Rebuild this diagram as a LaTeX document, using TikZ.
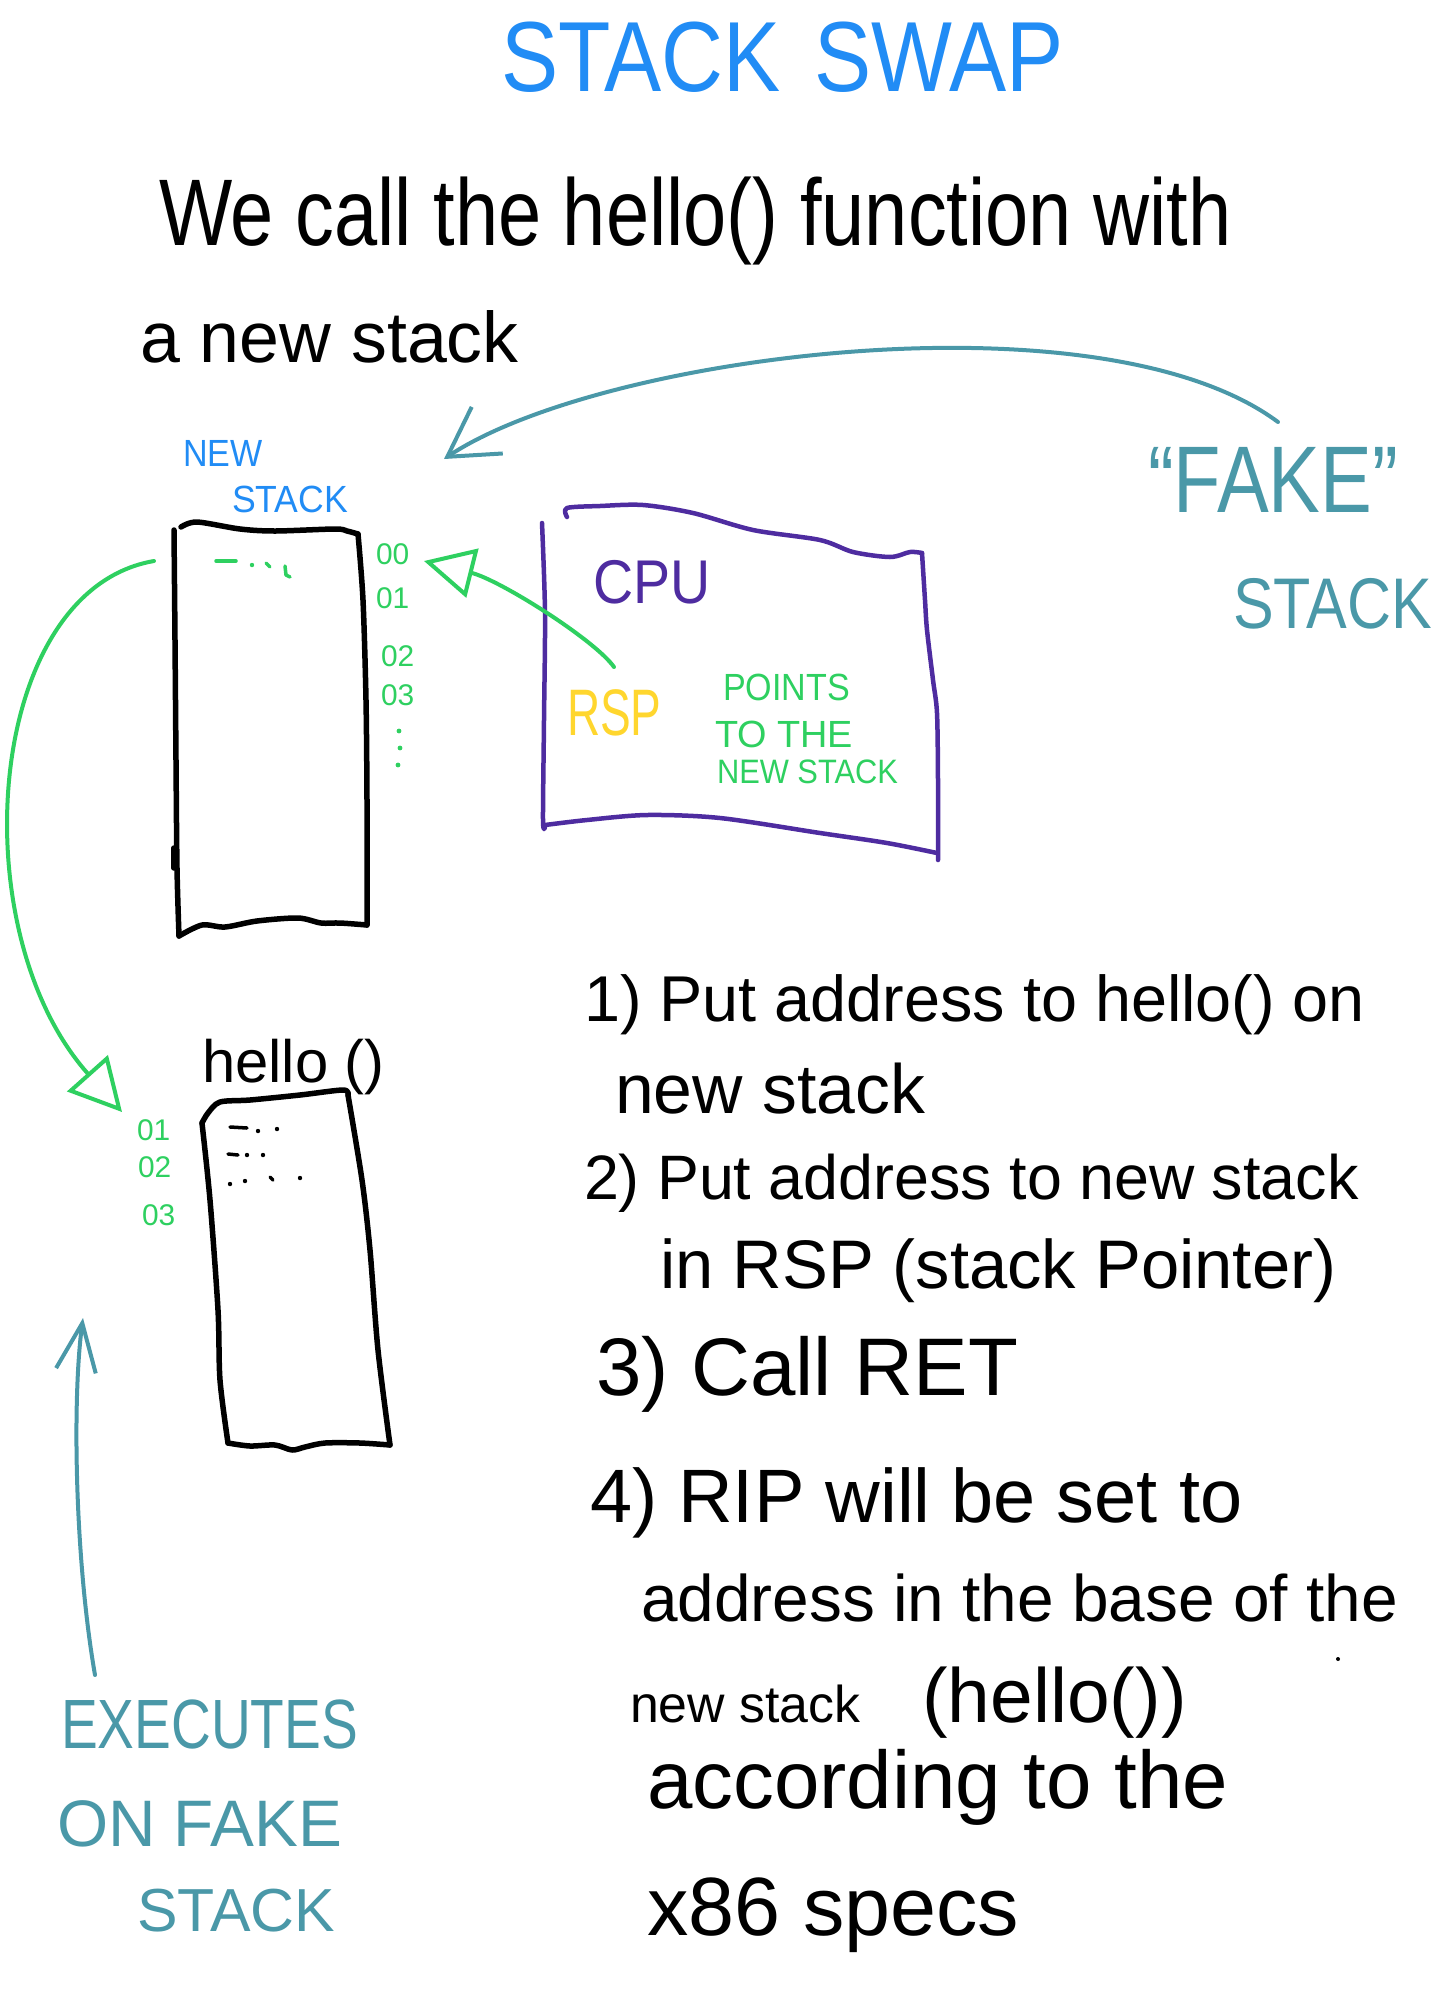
\documentclass[tikz,border=0pt]{standalone}
\usepackage{graphicx}
\usepackage{fontspec}
\setmainfont{Liberation Sans}
\usetikzlibrary{arrows.meta}
\definecolor{ttlblue}{RGB}{33,140,245}
\definecolor{tealc}{RGB}{74,152,168}
\definecolor{grn}{RGB}{46,208,96}
\definecolor{purp}{RGB}{78,44,160}
\definecolor{yel}{RGB}{255,214,46}
\newcommand{\fsz}[1]{\fontsize{#1}{#1}\selectfont}
\begin{document}
\begin{tikzpicture}[x=1bp,y=-1bp,
  t/.style={anchor=base west, inner sep=0pt, outer sep=0pt},
  stk/.style={draw=black, line width=5.5bp, line cap=round, line join=round},
  cpubox/.style={draw=purp, line width=4.5bp, line cap=round, line join=round},
  gline/.style={draw=grn, line width=4bp, line cap=round, line join=round},
  tline/.style={draw=tealc, line width=4bp, line cap=round, line join=round},
  tri/.style={-{Triangle[open, length=50bp, width=50bp, line width=4bp]}},
]
\useasboundingbox[fill=white] (0,0) rectangle (1450,1990);

% ---------- title and intro text ----------
\node[t, text=ttlblue] (title) at (501,91) {\scalebox{0.86}[1]{\fsz{100}STACK\hspace{40bp}SWAP}};
\node[t] (intro1) at (159,245) {\scalebox{0.82}[1]{\fsz{95}We call the hello() function with}};
\node[t] (intro2) at (140,362) {\fsz{72}a new stack};

% ---------- new stack ----------
\node[t, text=ttlblue] (nslab1) at (183,466) {\scalebox{0.9}[1]{\fsz{38}NEW}};
\node[t, text=ttlblue] (nslab2) at (232,512) {\scalebox{0.94}[1]{\fsz{38}STACK}};
\draw[stk] plot[smooth] coordinates {(181,527) (197,522) (240,529) (275,531) (335,529) (347,531) (358,534)};
\draw[stk] plot[smooth] coordinates {(358,534) (363,600) (366,700) (367,800) (367,886) (367,925)};
\draw[stk] plot[smooth] coordinates {(367,925) (340,923) (321,923) (298,918) (257,921) (225,927) (202,925) (179,936)};
\draw[stk] plot[smooth] coordinates {(179,936) (177,868) (176,760) (175,640) (174,530)};
\draw[stk] (174,848) -- (174,868);

\node[t, text=grn] (a00) at (376,564) {\fsz{30}00};
\node[t, text=grn] (a01) at (376,608) {\fsz{30}01};
\node[t, text=grn] (a02) at (381,666) {\fsz{30}02};
\node[t, text=grn] (a03) at (381,705) {\fsz{30}03};
\fill[grn] (399,731) circle (2.4bp) (400,748) circle (2.4bp) (398,765) circle (2.4bp);
% marks inside new stack
\draw[gline, line width=3.5bp] (216,561) -- (236,561);
\fill[grn] (252,565) circle (2.2bp);
\draw[gline, line width=3.5bp] (266,563) -- (270,567);
\draw[gline, line width=3.5bp] (285,566) -- (286,575) -- (290,577);

% ---------- CPU ----------
\draw[cpubox] plot[smooth] coordinates {(567,517) (567,508) (600,506) (643,505) (693,513) (753,530) (820,540) (853,552) (890,557) (910,552) (922,553)};
\draw[cpubox] plot[smooth] coordinates {(922,553) (925,600) (927,630) (933,680) (937,713) (938,780) (938,860)};
\draw[cpubox] plot[smooth] coordinates {(545,825) (587,820) (647,815) (720,818) (820,833) (887,843) (937,853)};
\draw[cpubox] plot[smooth] coordinates {(542,523) (545,613) (544,720) (543,820) (545,827)};
\node[t, text=purp] (cpu) at (593,603) {\scalebox{0.9}[1]{\fsz{62}CPU}};
\node[t, text=yel] (rsp) at (567,735) {\scalebox{0.7}[1]{\fsz{66}RSP}};
\node[t, text=grn] (pt1) at (723,700) {\scalebox{0.9}[1]{\fsz{38}POINTS}};
\node[t, text=grn] (pt2) at (715,747) {\fsz{38}TO THE};
\node[t, text=grn] (pt3) at (717,783) {\scalebox{0.91}[1]{\fsz{34}NEW STACK}};

% ---------- fake stack label ----------
\node[t, text=tealc] (fake) at (1148,512) {\scalebox{0.82}[1]{\fsz{95}“FAKE”}};
\node[t, text=tealc] (fake2) at (1233,628) {\scalebox{0.85}[1]{\fsz{72}STACK}};

% ---------- hello stack ----------
\node[t] (hello) at (202,1082) {\fsz{60}hello ()};
\draw[stk] plot[smooth] coordinates {(202,1123) (208,1113) (220,1102) (250,1100) (300,1095) (343,1090) (348,1095)};
\draw[stk] plot[smooth] coordinates {(348,1095) (362,1180) (370,1250) (378,1350) (390,1445)};
\draw[stk] plot[smooth] coordinates {(390,1445) (360,1443) (325,1443) (305,1447) (292,1450) (275,1445) (250,1446) (228,1443)};
\draw[stk] plot[smooth] coordinates {(202,1123) (210,1200) (218,1310) (220,1380) (228,1443)};
\node[t, text=grn] (b01) at (137,1140) {\fsz{30}01};
\node[t, text=grn] (b02) at (138,1177) {\fsz{30}02};
\node[t, text=grn] (b03) at (142,1225) {\fsz{30}03};
\draw[stk, line width=3.5bp] (230,1127) -- (247,1128) (228,1154) -- (238,1155) (270,1177) -- (273,1180);
\fill (258,1131) circle (2.2bp) (277,1129) circle (2.2bp) (247,1155) circle (2.2bp) (263,1155) circle (2.2bp)
      (230,1184) circle (2.2bp) (245,1181) circle (2.2bp) (300,1178) circle (2.2bp);

% ---------- executes on fake stack ----------
\node[t, text=tealc] (ex1) at (61,1748) {\scalebox{0.79}[1]{\fsz{70}EXECUTES}};
\node[t, text=tealc] (ex2) at (57,1846) {\fsz{66}ON FAKE};
\node[t, text=tealc] (ex3) at (137,1931) {\fsz{61}STACK};

% ---------- steps ----------
\node[t] (s1a) at (584,1021) {\fsz{65}1) Put address to hello() on};
\node[t] (s1b) at (615,1113) {\fsz{70}new stack};
\node[t] (s2a) at (584,1199) {\fsz{63}2) Put address to new stack};
\node[t] (s2b) at (660,1288) {\fsz{69}in RSP (stack Pointer)};
\node[t] (s3)  at (596,1395) {\fsz{82}3) Call RET};
\node[t] (s4a) at (590,1522) {\fsz{76}4) RIP will be set to};
\node[t] (s4b) at (641,1621) {\fsz{66}address in the base of the};
\node[t] (s4c) at (630,1722) {{\fsz{52}new stack}\hspace*{62bp}{\fsz{77}(hello())}};
\node[t] (s4d) at (647,1808) {\fsz{82}according to the};
\node[t] (s4e) at (647,1935) {\fsz{83}x86 specs};
\fill (1338,1659) circle (2bp);

% ---------- connectors ----------
\coordinate (fakeTail) at (1278,422);
\coordinate (nsTip) at (444,459);
\draw[tline, -{Straight Barb[length=48bp, width=56bp]}] (fakeTail) .. controls (1100,290) and (600,355) .. (nsTip);

\coordinate (rspTail) at (614,667);
\coordinate (a00Tip) at (424,561);
\draw[gline, tri] (rspTail) .. controls (595,640) and (500,580) .. (a00Tip);

\coordinate (nsOut) at (154,561);
\coordinate (helloIn) at (122,1112);
\draw[gline, -{Triangle[open, length=52bp, width=54bp, line width=4bp]}] (nsOut) .. controls (-15,590) and (-40,930) .. (helloIn);

\coordinate (exTail) at (95,1675);
\coordinate (exTip) at (83,1318);
\draw[tline, -{Straight Barb[length=48bp, width=40bp]}] (exTail) .. controls (75,1560) and (72,1400) .. (exTip);
\end{tikzpicture}
\end{document}
